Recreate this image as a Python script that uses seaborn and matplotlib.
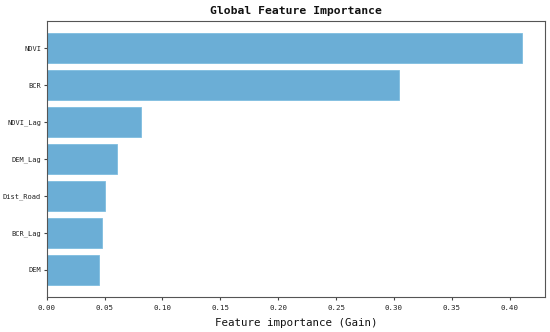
import matplotlib
matplotlib.use("Agg")
import matplotlib.pyplot as plt
import seaborn as sns
import pandas as pd

features = ["NDVI", "BCR", "NDVI_Lag", "DEM_Lag", "Dist_Road", "BCR_Lag", "DEM"]
gain = [0.411, 0.304, 0.081, 0.061, 0.050, 0.048, 0.045]

df = pd.DataFrame({"feature": features, "gain": gain})

sns.set_style("ticks")
plt.rcParams["font.family"] = ["DejaVu Sans Mono"]
plt.rcParams["text.color"] = "#111111"

fig = plt.figure(figsize=(5.5, 3.32), dpi=100)
ax = fig.add_axes([0.085, 0.105, 0.906, 0.832])

sns.barplot(data=df, x="gain", y="feature", orient="h", color="#6baed6",
            saturation=1, width=0.8, edgecolor="#7fbde0", linewidth=0.6, ax=ax)

ax.set_ylim(6.74, -0.74)
ax.set_xlim(0, 0.4305)
ax.set_xticks([0.0, 0.05, 0.10, 0.15, 0.20, 0.25, 0.30, 0.35, 0.40])
ax.set_xticklabels([f"{v:.2f}" for v in ax.get_xticks()], fontsize=5.4)
ax.tick_params(axis="y", labelsize=5.0, pad=1.5)
ax.tick_params(axis="x", pad=3.5)
ax.tick_params(length=2.5, width=0.8, color="#444444", labelcolor="#222222")
for s in ax.spines.values():
    s.set_color("#555555")
    s.set_linewidth(0.8)

ax.set_ylabel("")
ax.set_xlabel("Feature importance (Gain)", fontsize=7.8, labelpad=5, color="#111111")
ax.set_title("Global Feature Importance", fontsize=8.2, fontweight="bold", pad=5)

fig.savefig("out.png", dpi=100)
